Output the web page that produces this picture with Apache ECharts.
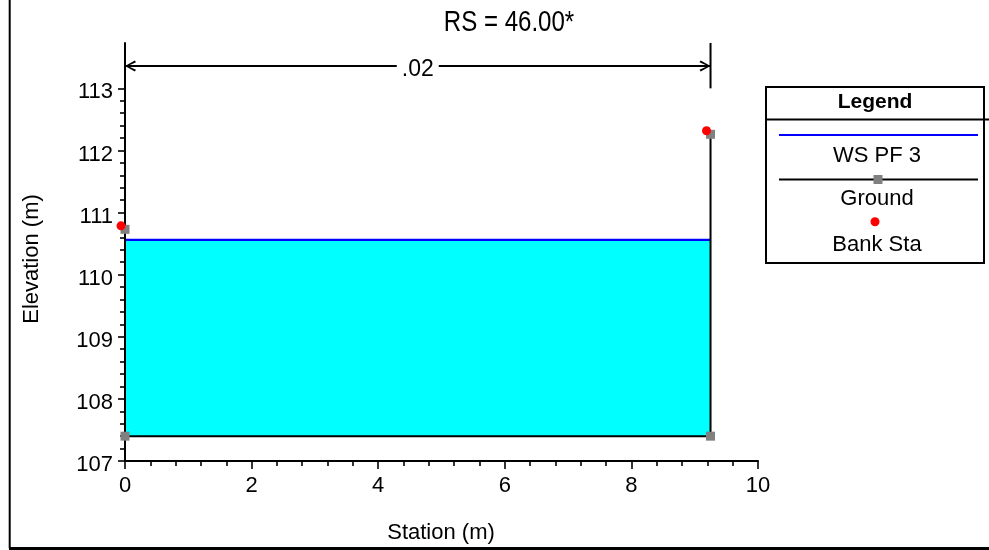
<!DOCTYPE html>
<html>
<head>
<meta charset="utf-8">
<script src="https://cdn.jsdelivr.net/npm/echarts@6/dist/echarts.min.js"></script>
<style>
  html, body { margin: 0; padding: 0; background: #fff; }
  #chart { width: 989px; height: 550px; }
</style>
</head>
<body>
<div id="chart"></div>
<script>
// Cross section RS = 46.00* : station (m) vs elevation (m)
const groundStation   = [0, 0, 9.25, 9.25];
const groundElevation = [110.73, 107.40, 107.40, 112.26];
const bankStation     = [0, 9.25];
const bankElevation   = [110.73, 112.26];
const wsStation       = [0, 9.25];
const wsElevation     = [110.56, 110.56];
const nValueLabel     = '.02';
const nValueElevation = 113.36;
const xTicks = [0, 2, 4, 6, 8, 10];
const yTicks = [107, 108, 109, 110, 111, 112, 113];
const yMinorTicks = [];
for (let v = 107; v < 113; v++) {
  for (let k = 1; k < 5; k++) yMinorTicks.push(+(v + k * 0.2).toFixed(1));
}

const FONT = '"Liberation Sans", Arial, sans-serif';
const Y_MIN = 107, Y_TOP = 113.73, X_MIN = 0, X_MAX = 10;

const pairs = (xs, ys) => xs.map((x, i) => [x, ys[i]]);
const groundData = pairs(groundStation, groundElevation);
const bankData = pairs(bankStation, bankElevation);
const wsData = pairs(wsStation, wsElevation);
const leftBank = bankStation[0], rightBank = bankStation[bankStation.length - 1];

// open chevrons for the n-value bracket ends
const arrowLeft = 'path://M10,0 L11.2,1.6 L2.8,5 L11.2,8.4 L10,10 L0,5 Z';
const arrowRight = 'path://M1.2,0 L0,1.6 L8.4,5 L0,8.4 L1.2,10 L11.2,5 Z';

const chart = echarts.init(document.getElementById('chart'), null, { renderer: 'canvas' });

const option = {
  backgroundColor: '#ffffff',
  animation: false,
  grid: { left: 125, right: 231, top: 43, bottom: 89, containLabel: false },
  xAxis: [{
    type: 'value', min: X_MIN, max: X_MAX, interval: 2,
    axisLine: { show: true, onZero: false, lineStyle: { color: '#000', width: 2 } },
    axisTick: { show: true, length: 8, lineStyle: { color: '#000', width: 1.6 } },
    minorTick: { show: true, splitNumber: 5, length: 5, lineStyle: { color: '#000', width: 1.6 } },
    axisLabel: { color: '#000', fontFamily: FONT, fontSize: 22, margin: 14,
      customValues: xTicks, formatter: v => String(v) },
    splitLine: { show: false }, minorSplitLine: { show: false }
  }],
  yAxis: [{
    type: 'value', min: Y_MIN, max: Y_TOP, interval: 1, position: 'left',
    axisLine: { show: true, onZero: false, lineStyle: { color: '#000', width: 2 } },
    axisTick: { show: true, length: 7, customValues: yTicks, lineStyle: { color: '#000', width: 1.6 } },
    axisLabel: { color: '#000', fontFamily: FONT, fontSize: 22, margin: 12,
      customValues: yTicks, verticalAlign: 'top', lineHeight: 8, formatter: v => String(v) },
    splitLine: { show: false }
  }, {
    type: 'value', min: Y_MIN, max: Y_TOP, position: 'left', offset: 0,
    axisLine: { show: false },
    axisTick: { show: true, length: 5, customValues: yMinorTicks, lineStyle: { color: '#000', width: 1.6 } },
    axisLabel: { show: false },
    splitLine: { show: false }
  }],
  series: [
    {
      name: 'WS PF 3', type: 'line', data: wsData, clip: false, z: 2,
      symbol: 'none',
      lineStyle: { color: '#0000ff', width: 2.2 },
      areaStyle: { color: '#00ffff', opacity: 1, origin: groundElevation[1] }
    },
    {
      name: 'Ground', type: 'line', data: groundData, clip: false, z: 3,
      symbol: 'rect', symbolSize: 9,
      itemStyle: { color: '#808080', opacity: 1 },
      lineStyle: { color: '#000', width: 2 }
    },
    {
      name: 'Bank Sta', type: 'scatter', data: bankData, clip: false, z: 4,
      symbol: 'circle', symbolSize: 9, symbolOffset: [-4, -3.5],
      itemStyle: { color: '#ff0000', opacity: 1 }
    },
    {
      // n-value bracket across the section
      type: 'line', data: [[leftBank, nValueElevation], [rightBank, nValueElevation]],
      clip: false, z: 3, symbol: 'none', silent: true,
      lineStyle: { color: '#000', width: 2 }
    },
    {
      type: 'line', data: [[rightBank, Y_TOP], [rightBank, 113]],
      clip: false, z: 3, symbol: 'none', silent: true,
      lineStyle: { color: '#000', width: 2 }
    },
    {
      type: 'scatter', clip: false, z: 4, silent: true,
      symbolSize: [11, 11],
      data: [
        { value: [leftBank, nValueElevation], symbol: arrowLeft, symbolOffset: [5.5, 0] },
        { value: [rightBank, nValueElevation], symbol: arrowRight, symbolOffset: [-5.5, 0] }
      ],
      itemStyle: { color: '#000', opacity: 1 }
    },
    {
      type: 'scatter', clip: false, z: 5, silent: true,
      symbolSize: 0,
      itemStyle: { color: '#000', opacity: 1 },
      data: [[(leftBank + rightBank) / 2, nValueElevation]],
      label: {
        show: true, position: 'inside', formatter: nValueLabel,
        color: '#000', fontFamily: FONT, fontSize: 23, opacity: 1,
        textBorderWidth: 0, textBorderColor: 'transparent',
        backgroundColor: '#ffffff', padding: [0, 5, 0, 5], offset: [0, 4]
      }
    }
  ],
  graphic: [
    // outer frame
    { type: 'line', shape: { x1: 9.7, y1: 0, x2: 9.7, y2: 548.5 }, style: { stroke: '#000', lineWidth: 2 } },
    { type: 'line', shape: { x1: 9, y1: 548.5, x2: 989, y2: 548.5 }, style: { stroke: '#000', lineWidth: 3 } },
    // title, horizontally condensed
    { type: 'text', x: 509, y: 22.5, scaleX: 0.83, scaleY: 1,
      style: { text: 'RS = 46.00*', font: '29px ' + FONT, fill: '#000', align: 'center', verticalAlign: 'middle' } },
    // axis names
    { type: 'text', x: 441, y: 533,
      style: { text: 'Station (m)', font: '22px ' + FONT, fill: '#000', align: 'center', verticalAlign: 'middle' } },
    { type: 'text', x: 32, y: 259, rotation: Math.PI / 2,
      style: { text: 'Elevation (m)', font: '22px ' + FONT, fill: '#000', align: 'center', verticalAlign: 'middle' } },
    // legend box
    { type: 'rect', shape: { x: 766, y: 87, width: 218, height: 176 },
      style: { fill: '#fff', stroke: '#000', lineWidth: 2 } },
    { type: 'line', shape: { x1: 766, y1: 119.5, x2: 989, y2: 119.5 }, style: { stroke: '#000', lineWidth: 2 } },
    { type: 'text', x: 875, y: 102,
      style: { text: 'Legend', font: 'bold 21px ' + FONT, fill: '#000', align: 'center', verticalAlign: 'middle' } },
    { type: 'line', shape: { x1: 779, y1: 135, x2: 978, y2: 135 }, style: { stroke: '#0000ff', lineWidth: 2.2 } },
    { type: 'text', x: 877, y: 156,
      style: { text: 'WS PF 3', font: '22px ' + FONT, fill: '#000', align: 'center', verticalAlign: 'middle' } },
    { type: 'line', shape: { x1: 779, y1: 179.5, x2: 978, y2: 179.5 }, style: { stroke: '#000', lineWidth: 2 } },
    { type: 'rect', shape: { x: 873.5, y: 175, width: 9, height: 9 }, style: { fill: '#808080' } },
    { type: 'text', x: 877, y: 198.5,
      style: { text: 'Ground', font: '22px ' + FONT, fill: '#000', align: 'center', verticalAlign: 'middle' } },
    { type: 'circle', shape: { cx: 875, cy: 221.7, r: 4.5 }, style: { fill: '#ff0000' } },
    { type: 'text', x: 877, y: 244.5,
      style: { text: 'Bank Sta', font: '22px ' + FONT, fill: '#000', align: 'center', verticalAlign: 'middle' } }
  ]
};

chart.setOption(option);
</script>
</body>
</html>
